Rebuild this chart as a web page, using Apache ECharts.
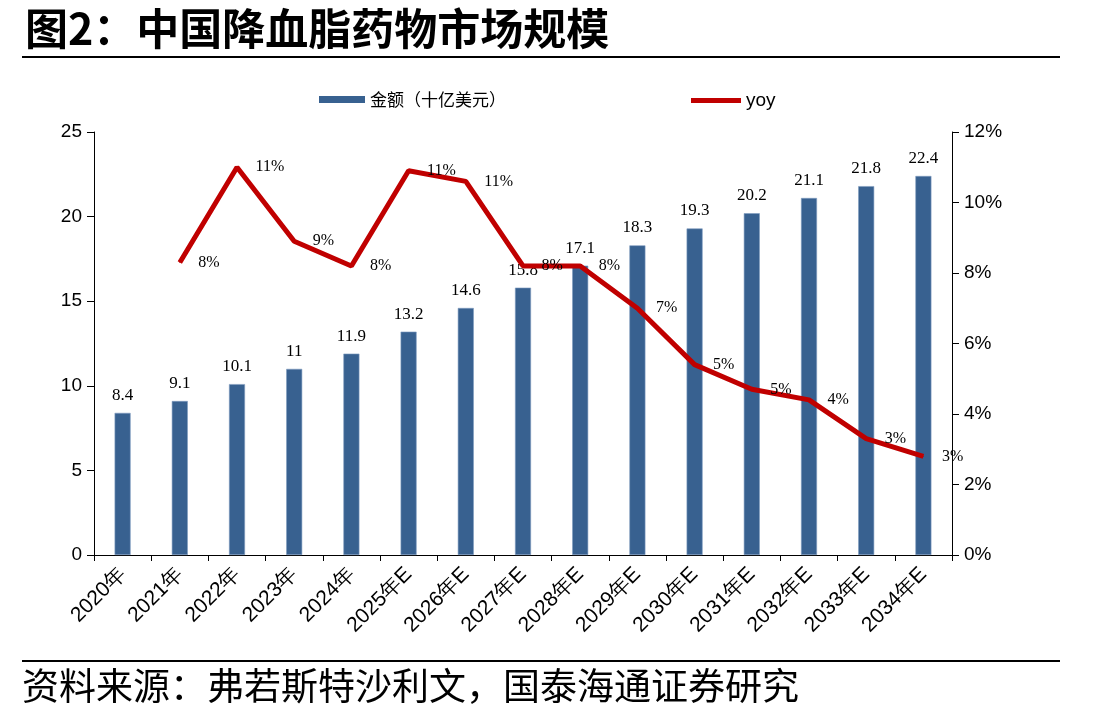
<!DOCTYPE html>
<html>
<head>
<meta charset="utf-8">
<script src="https://cdn.jsdelivr.net/npm/echarts@6/dist/echarts.min.js"></script>
<style>
  html, body { margin: 0; padding: 0; background: #fff; }
  #main { width: 1107px; height: 720px; }
</style>
</head>
<body>
<div id="main"></div>
<script>
// 年份
const categories = ['2020年', '2021年', '2022年', '2023年', '2024年', '2025年E', '2026年E', '2027年E',
  '2028年E', '2029年E', '2030年E', '2031年E', '2032年E', '2033年E', '2034年E'];
// 金额（十亿美元）
const amount = [8.4, 9.1, 10.1, 11, 11.9, 13.2, 14.6, 15.8, 17.1, 18.3, 19.3, 20.2, 21.1, 21.8, 22.4];
// yoy（%），2020年无数据
const yoy = [null, 8.3, 11.0, 8.9, 8.2, 10.9, 10.6, 8.2, 8.2, 7.0, 5.4, 4.7, 4.4, 3.3, 2.8];
// 坐标轴刻度
const leftTicks = [0, 5, 10, 15, 20, 25];
const rightTicks = [0, 2, 4, 6, 8, 10, 12];

const chart = echarts.init(document.getElementById('main'));

const option = {
  backgroundColor: '#fff',
  animation: false,
  title: {
    text: '图2：中国降血脂药物市场规模',
    left: 20, top: 2,
    textStyle: { fontFamily: 'Noto Sans CJK SC', fontWeight: 'bold', fontSize: 43, color: '#000' }
  },
  legend: [
    {
      data: [{ name: '金额（十亿美元）', icon: 'rect', itemStyle: { borderWidth: 0 } }],
      left: 314, top: 86,
      itemWidth: 46, itemHeight: 7, itemGap: 8,
      textStyle: { fontFamily: 'Noto Sans CJK SC', fontSize: 17, color: '#000' }
    },
    {
      data: [{ name: 'yoy', icon: 'rect' }],
      left: 686, top: 86,
      itemWidth: 50, itemHeight: 5, itemGap: 4,
      textStyle: { fontFamily: 'Liberation Sans', fontSize: 19, color: '#000' }
    }
  ],
  grid: { left: 94, right: 155, top: 132, bottom: 165 },
  xAxis: {
    type: 'category',
    data: categories,
    axisLine: { lineStyle: { color: '#000', width: 1 } },
    axisTick: { show: true, alignWithLabel: false, length: 6, lineStyle: { color: '#000' } },
    axisLabel: {
      rotate: 45, interval: 0, margin: 16,
      fontFamily: 'Liberation Sans', fontSize: 21, color: '#000'
    }
  },
  yAxis: [
    {
      type: 'value', min: leftTicks[0], max: leftTicks[leftTicks.length - 1], interval: 5,
      axisLine: { show: true, lineStyle: { color: '#000' } },
      axisTick: { show: true, length: 7, lineStyle: { color: '#000' } },
      splitLine: { show: false },
      axisLabel: { margin: 12, fontFamily: 'Liberation Sans', fontSize: 19, color: '#000' }
    },
    {
      type: 'value', min: rightTicks[0], max: rightTicks[rightTicks.length - 1], interval: 2,
      position: 'right',
      axisLine: { show: true, lineStyle: { color: '#000' } },
      axisTick: { show: true, length: 7, lineStyle: { color: '#000' } },
      splitLine: { show: false },
      axisLabel: {
        margin: 12, fontFamily: 'Liberation Sans', fontSize: 19, color: '#000',
        formatter: (v) => v + '%'
      }
    }
  ],
  series: [
    {
      name: '金额（十亿美元）',
      type: 'bar',
      data: amount,
      barWidth: 16,
      itemStyle: { color: '#386190', borderColor: '#7f9cc0', borderWidth: 0.6 },
      label: {
        show: true, position: 'top', distance: 9,
        fontFamily: 'Liberation Serif', fontSize: 17, color: '#000'
      }
    },
    {
      name: 'yoy',
      type: 'line',
      yAxisIndex: 1,
      data: yoy,
      showSymbol: true,
      symbol: 'circle',
      symbolSize: 1,
      lineStyle: { color: '#C00000', width: 5 },
      itemStyle: { color: '#C00000' },
      label: {
        show: true, position: 'right', distance: 18,
        fontFamily: 'Liberation Serif', fontSize: 16, color: '#000',
        formatter: (p) => p.value == null ? '' : Math.round(p.value) + '%'
      }
    }
  ],
  graphic: [
    { type: 'rect', shape: { x: 22, y: 56, width: 1038, height: 2 }, style: { fill: '#000' } },
    { type: 'rect', shape: { x: 22, y: 660, width: 1038, height: 2 }, style: { fill: '#000' } },
    {
      type: 'text', left: 22, top: 667,
      style: {
        text: '资料来源：弗若斯特沙利文，国泰海通证券研究',
        font: '37px "Noto Sans CJK SC"', fill: '#000'
      }
    }
  ]
};

chart.setOption(option);
</script>
</body>
</html>
